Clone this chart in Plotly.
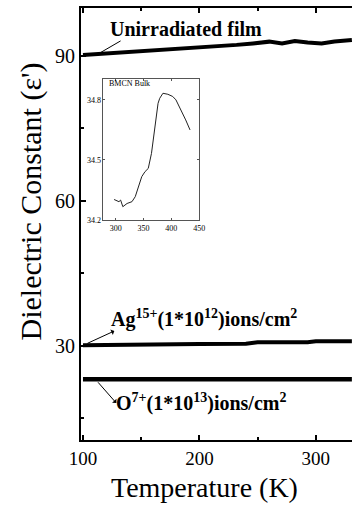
import plotly.graph_objects as go

# Main series (Temperature K, dielectric constant)
T_unirr = [100, 125, 154, 181.5, 209, 232, 246, 260, 271, 282, 293, 305, 316, 331]
e_unirr = [90.2, 90.56, 91.0, 91.45, 91.8, 92.3, 92.6, 92.97, 92.6, 93.1, 92.8, 92.6, 93.0, 93.3]

T_ag = [100, 190, 200, 240, 250, 293, 300, 331]
e_ag = [30.15, 30.2, 30.4, 30.45, 30.75, 30.8, 31.0, 31.0]

T_o = [100, 150, 200, 250, 300, 331]
e_o = [23.1, 23.1, 23.1, 23.1, 23.1, 23.1]

# Inset: BMCN bulk
T_bulk = [297, 305.8, 308.8, 312.8, 320.4, 329.2, 335.1, 341, 346.8, 352.7, 358.5, 364.3,
          367.3, 370.3, 376.1, 379.1, 384.9, 393.7, 402.5, 408.3, 414.2, 420, 425.8, 433.6]
e_bulk = [34.303, 34.292, 34.30, 34.267, 34.283, 34.292, 34.317, 34.367, 34.417, 34.442,
          34.458, 34.533, 34.60, 34.683, 34.783, 34.808, 34.833, 34.828, 34.817, 34.80,
          34.767, 34.733, 34.70, 34.65]

x_ticks = [100, 200, 300]
y_ticks = [30, 60, 90]
inset_x_ticks = [300, 350, 400, 450]
inset_y_ticks = [34.2, 34.5, 34.8]

SERIF = "Liberation Serif"

fig = go.Figure()
for xs, ys, w in [(T_unirr, e_unirr, 4), (T_ag, e_ag, 4), (T_o, e_o, 4.5)]:
    fig.add_trace(go.Scatter(x=xs, y=ys, mode="lines", line=dict(color="black", width=w),
                             showlegend=False, xaxis="x", yaxis="y"))

fig.add_trace(go.Scatter(x=T_bulk, y=e_bulk, mode="lines",
                         line=dict(color="#222", width=1), showlegend=False,
                         xaxis="x2", yaxis="y2"))

axis_common = dict(showgrid=False, zeroline=False, linecolor="black", ticks="inside",
                   tickcolor="black")

fig.update_layout(
    width=358, height=508,
    margin=dict(l=81, r=0, t=8, b=68),
    paper_bgcolor="white", plot_bgcolor="white",
    font=dict(family=SERIF, color="black"),
    xaxis=dict(range=[98.3, 331.1], tickvals=x_ticks, linewidth=2, ticklen=5, tickwidth=1.5,
               mirror="ticks", tickfont=dict(size=19, family=SERIF, color="black"),
               minor=dict(tickvals=[150, 250], ticklen=3, tickwidth=1.5, ticks="inside",
                          tickcolor="black"),
               **axis_common),
    yaxis=dict(range=[10.55, 99.93], tickvals=y_ticks, linewidth=2, ticklen=5, tickwidth=1.5,
               tickfont=dict(size=20, family=SERIF, color="black"),
               minor=dict(tickvals=[15, 45, 75], ticklen=3, tickwidth=1.5, ticks="inside",
                          tickcolor="black"),
               **axis_common),
    xaxis2=dict(domain=[0.083, 0.437], anchor="y2", range=[278, 450.5], tickvals=inset_x_ticks,
                linewidth=1, linecolor="#555", ticks="inside", ticklen=2, tickcolor="#555",
                mirror="ticks", showgrid=False, zeroline=False,
                tickfont=dict(size=8, family=SERIF, color="black")),
    yaxis2=dict(domain=[0.509, 0.836], anchor="x2", range=[34.2, 34.905], tickvals=inset_y_ticks,
                linewidth=1, linecolor="#555", ticks="inside", ticklen=2, tickcolor="#555",
                mirror="ticks", showgrid=False, zeroline=False,
                tickfont=dict(size=8, family=SERIF, color="black")),
)

ann = []
# Axis titles
ann.append(dict(text="Dielectric Constant (ε')", xref="paper", yref="paper",
                x=-0.183, y=0.553, xanchor="center", yanchor="middle", textangle=-90,
                showarrow=False, font=dict(size=30, family=SERIF, color="black")))
ann.append(dict(text="Temperature (K)", xref="paper", yref="paper",
                x=0.457, y=-0.111, xanchor="center", yanchor="middle", showarrow=False,
                font=dict(size=28, family=SERIF, color="black")))
# Curve labels
ann.append(dict(text="<b>Unirradiated film</b>", x=188.7, y=95.6, xref="x", yref="y",
                showarrow=False, font=dict(size=20, family=SERIF, color="black")))
ann.append(dict(text="<b>Ag<sup>15+</sup>(1*10<sup>12</sup>)ions/cm<sup>2</sup></b>",
                x=203.8, y=35.6, xref="x", yref="y", showarrow=False,
                font=dict(size=20, family=SERIF, color="black")))
ann.append(dict(text="<b>O<sup>7+</sup>(1*10<sup>13</sup>)ions/cm<sup>2</sup></b>",
                x=201.7, y=18.3, xref="x", yref="y", showarrow=False,
                font=dict(size=20, family=SERIF, color="black")))
# Pointer lines
ann.append(dict(text="", x=114.3, y=90.6, ax=133.6, ay=93.3, xref="x", yref="y",
                axref="x", ayref="y", showarrow=True, arrowhead=0, arrowwidth=1,
                arrowcolor="black"))
ann.append(dict(text="", x=126.9, y=33.1, ax=102.5, ay=30.4, xref="x", yref="y",
                axref="x", ayref="y", showarrow=True, arrowhead=1, arrowsize=1,
                arrowwidth=1, arrowcolor="black"))
ann.append(dict(text="", x=128.6, y=18.2, ax=111.8, ay=22.8, xref="x", yref="y",
                axref="x", ayref="y", showarrow=True, arrowhead=1, arrowsize=1,
                arrowwidth=1, arrowcolor="black"))
# Inset title
ann.append(dict(text="BMCN Bulk", x=284, y=34.88, xref="x2", yref="y2", xanchor="left",
                yanchor="middle", showarrow=False, font=dict(size=8, family=SERIF, color="black")))

fig.update_layout(annotations=ann)
fig.write_html("out.html")
